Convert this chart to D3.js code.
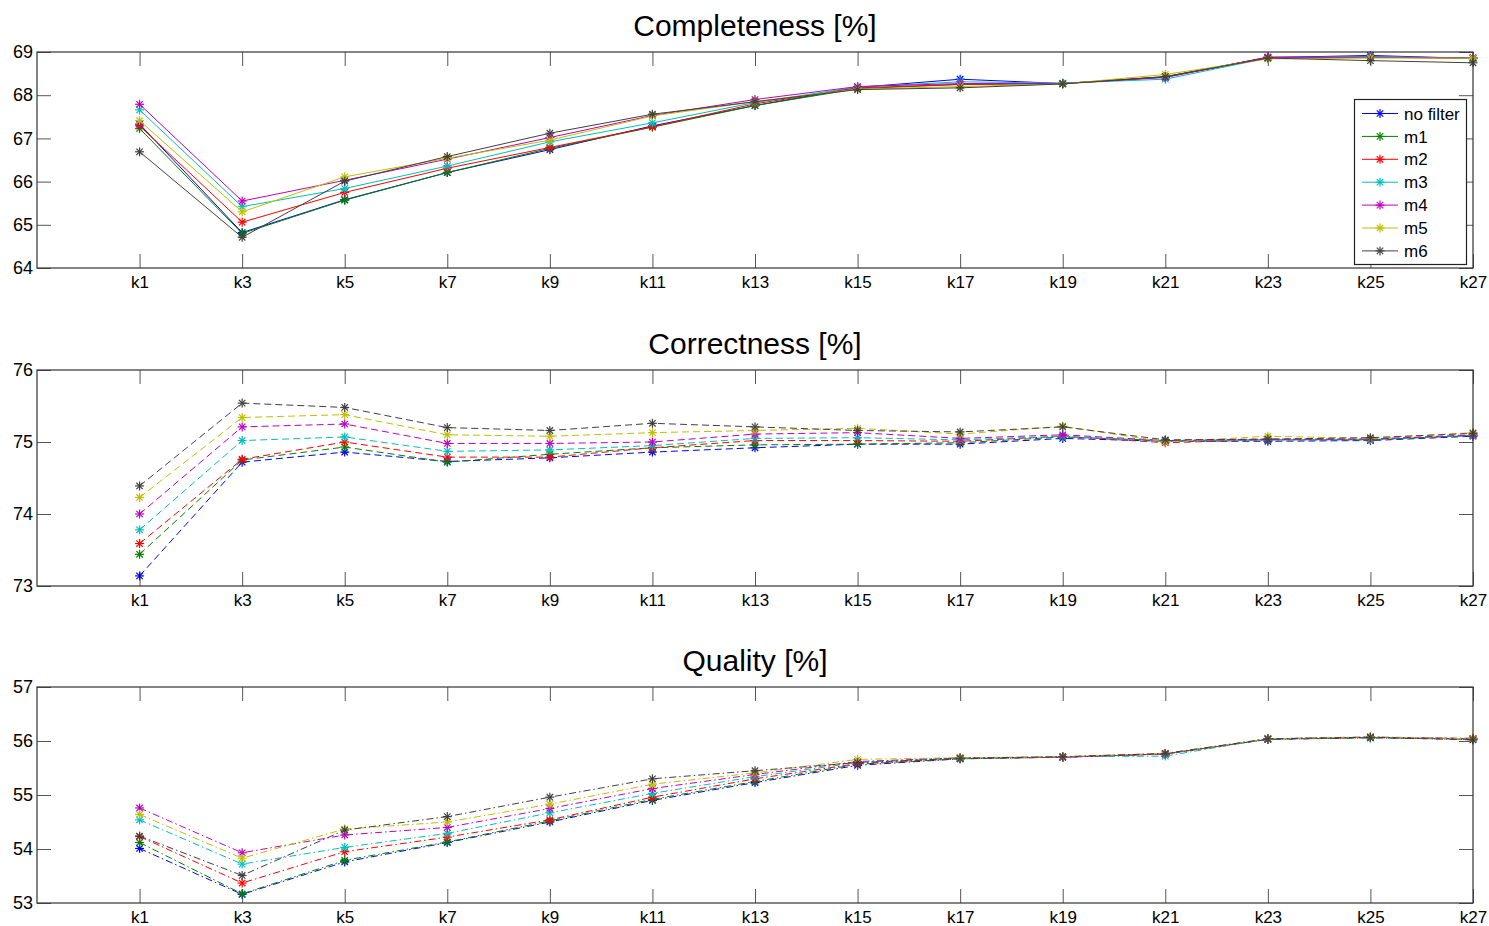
<!DOCTYPE html>
<html>
<head>
<meta charset="utf-8">
<script src="https://cdn.jsdelivr.net/npm/d3@7"></script>
<style>
    body { margin: 0; background: #fff; }
    text { font-family: "Liberation Sans", Arial, sans-serif; }
</style>
</head>
<body>
<div id="my_dataviz"></div>
<script>
let width = 1489,
    height = 926;

// x categories
let kLabels = ["k1", "k3", "k5", "k7", "k9", "k11", "k13", "k15", "k17", "k19", "k21", "k23", "k25", "k27"];
let seriesNames = ["no filter", "m1", "m2", "m3", "m4", "m5", "m6"];
let seriesColors = ["#0000ff", "#008000", "#ff0000", "#00bfbf", "#bf00bf", "#bfbf00", "#404040"];

// Completeness [%]
let compNoFilter = [67.33, 64.82, 65.58, 66.21, 66.74, 67.29, 67.76, 68.18, 68.37, 68.27, 68.42, 68.87, 68.92, 68.85];
let compM1 = [67.23, 64.80, 65.57, 66.21, 66.77, 67.26, 67.76, 68.15, 68.25, 68.27, 68.43, 68.87, 68.88, 68.85];
let compM2 = [67.29, 65.06, 65.75, 66.31, 66.79, 67.27, 67.80, 68.17, 68.25, 68.27, 68.42, 68.88, 68.88, 68.86];
let compM3 = [67.66, 65.42, 65.84, 66.36, 66.92, 67.36, 67.83, 68.19, 68.31, 68.28, 68.37, 68.86, 68.90, 68.85];
let compM4 = [67.79, 65.55, 66.03, 66.52, 67.02, 67.53, 67.90, 68.20, 68.27, 68.27, 68.41, 68.88, 68.88, 68.87];
let compM5 = [67.41, 65.30, 66.11, 66.54, 66.96, 67.52, 67.85, 68.14, 68.20, 68.26, 68.48, 68.84, 68.86, 68.86];
let compM6 = [66.69, 64.71, 66.01, 66.58, 67.12, 67.56, 67.85, 68.13, 68.17, 68.26, 68.43, 68.86, 68.80, 68.75];

// Correctness [%]
let corrNoFilter = [73.14, 74.72, 74.86, 74.73, 74.78, 74.86, 74.92, 74.97, 74.97, 75.05, 75.01, 75.01, 75.02, 75.08];
let corrM1 = [73.44, 74.75, 74.93, 74.72, 74.83, 74.92, 74.96, 74.97, 74.99, 75.07, 75.02, 75.03, 75.03, 75.09];
let corrM2 = [73.59, 74.76, 75.00, 74.79, 74.79, 74.92, 75.02, 75.02, 75.01, 75.08, 74.99, 75.03, 75.04, 75.09];
let corrM3 = [73.78, 75.02, 75.07, 74.87, 74.89, 74.95, 75.05, 75.06, 75.03, 75.08, 75.01, 75.03, 75.03, 75.09];
let corrM4 = [74.00, 75.21, 75.25, 74.98, 74.98, 75.00, 75.11, 75.13, 75.05, 75.10, 75.02, 75.04, 75.04, 75.10];
let corrM5 = [74.23, 75.34, 75.38, 75.10, 75.08, 75.13, 75.16, 75.19, 75.11, 75.22, 75.00, 75.08, 75.05, 75.13];
let corrM6 = [74.39, 75.54, 75.48, 75.20, 75.16, 75.26, 75.21, 75.16, 75.14, 75.21, 75.03, 75.04, 75.06, 75.12];

// Quality [%]
let qualNoFilter = [54.01, 53.16, 53.76, 54.12, 54.50, 54.90, 55.23, 55.55, 55.67, 55.70, 55.76, 56.03, 56.06, 56.03];
let qualM1 = [54.12, 53.17, 53.79, 54.13, 54.52, 54.92, 55.25, 55.57, 55.67, 55.70, 55.76, 56.03, 56.06, 56.04];
let qualM2 = [54.23, 53.37, 53.95, 54.22, 54.54, 54.96, 55.30, 55.58, 55.68, 55.70, 55.76, 56.04, 56.07, 56.05];
let qualM3 = [54.54, 53.72, 54.03, 54.29, 54.67, 55.03, 55.34, 55.60, 55.68, 55.71, 55.72, 56.04, 56.07, 56.04];
let qualM4 = [54.76, 53.93, 54.26, 54.40, 54.75, 55.12, 55.38, 55.62, 55.69, 55.70, 55.76, 56.04, 56.07, 56.04];
let qualM5 = [54.64, 53.83, 54.37, 54.50, 54.83, 55.20, 55.41, 55.66, 55.69, 55.71, 55.77, 56.04, 56.08, 56.04];
let qualM6 = [54.24, 53.51, 54.35, 54.60, 54.96, 55.30, 55.45, 55.60, 55.68, 55.71, 55.77, 56.04, 56.07, 56.02];

let compTicks = [64, 65, 66, 67, 68, 69];
let corrTicks = [73, 74, 75, 76];
let qualTicks = [53, 54, 55, 56, 57];

let svg = d3.select("#my_dataviz")
    .append("svg")
    .attr("width", width)
    .attr("height", height);

let plotLeft = 37,
    plotRight = 1473,
    tickLen = 14;

// k1 sits one slot in from the left edge, k27 on the right edge
let x = d3.scaleLinear()
    .domain([-1, kLabels.length - 1])
    .range([plotLeft, plotRight]);

function asterisk(g, cx, cy, color) {
    let r = 4.5, d = 3.2;
    let segs = [[-r, 0, r, 0], [0, -r, 0, r], [-d, -d, d, d], [-d, d, d, -d]];
    segs.forEach(function (s) {
        g.append("line")
            .attr("x1", cx + s[0]).attr("y1", cy + s[1])
            .attr("x2", cx + s[2]).attr("y2", cy + s[3])
            .style("stroke", color)
            .style("stroke-width", 1.2);
    });
}

function drawPanel(top, title, ticks, series, dash, showLegend) {
    let bottom = top + 216;
    let y = d3.scaleLinear()
        .domain([ticks[0], ticks[ticks.length - 1]])
        .range([bottom, top]);

    let g = svg.append("g");

    // title
    g.append("text")
        .attr("x", (plotLeft + plotRight) / 2)
        .attr("y", top - 16)
        .attr("text-anchor", "middle")
        .style("font-size", "30px")
        .style("fill", "#000")
        .text(title);

    // bottom and left axes (ticks inward)
    let xAxis = d3.axisBottom(x)
        .tickValues(d3.range(kLabels.length))
        .tickFormat(function (i) { return kLabels[i]; })
        .tickSizeInner(-tickLen)
        .tickSizeOuter(0)
        .tickPadding(8);
    let xg = g.append("g")
        .attr("transform", "translate(0," + bottom + ")")
        .call(xAxis);
    xg.select(".domain").remove();
    xg.selectAll(".tick line").style("stroke", "#555");
    xg.selectAll(".tick text")
        .attr("dy", "0.72em")
        .style("font-size", "17px")
        .style("font-family", "'Liberation Sans', Arial, sans-serif")
        .style("fill", "#000");

    let yAxis = d3.axisLeft(y)
        .tickValues(ticks)
        .tickFormat(d3.format("d"))
        .tickSizeInner(-tickLen)
        .tickSizeOuter(0)
        .tickPadding(4);
    let yg = g.append("g")
        .attr("transform", "translate(" + plotLeft + ",0)")
        .call(yAxis);
    yg.select(".domain").remove();
    yg.selectAll(".tick line").style("stroke", "#555");
    yg.selectAll(".tick text")
        .style("font-size", "18px")
        .style("font-family", "'Liberation Sans', Arial, sans-serif")
        .style("fill", "#000");

    // mirrored ticks on top and right
    let topAxis = d3.axisTop(x)
        .tickValues(d3.range(kLabels.length))
        .tickFormat("")
        .tickSizeInner(-tickLen)
        .tickSizeOuter(0);
    let tg = g.append("g").attr("transform", "translate(0," + top + ")").call(topAxis);
    tg.select(".domain").remove();
    tg.selectAll(".tick line").style("stroke", "#555");

    let rightAxis = d3.axisRight(y)
        .tickValues(ticks)
        .tickFormat("")
        .tickSizeInner(-tickLen)
        .tickSizeOuter(0);
    let rg = g.append("g").attr("transform", "translate(" + plotRight + ",0)").call(rightAxis);
    rg.select(".domain").remove();
    rg.selectAll(".tick line").style("stroke", "#555");

    // series
    let line = d3.line()
        .x(function (d, i) { return x(i); })
        .y(function (d) { return y(d); });

    series.forEach(function (vals, si) {
        g.append("path")
            .datum(vals)
            .attr("d", line)
            .style("fill", "none")
            .style("stroke", seriesColors[si])
            .style("stroke-width", 1)
            .style("stroke-dasharray", dash);
        vals.forEach(function (v, i) {
            asterisk(g, x(i), y(v), seriesColors[si]);
        });
    });

    // frame
    g.append("rect")
        .attr("x", plotLeft)
        .attr("y", top)
        .attr("width", plotRight - plotLeft)
        .attr("height", bottom - top)
        .style("fill", "none")
        .style("stroke", "#333")
        .style("stroke-width", 1.2);

    if (showLegend) {
        let lg = g.append("g");
        lg.append("rect")
            .attr("x", 1354.5)
            .attr("y", 99.5)
            .attr("width", 112)
            .attr("height", 165)
            .style("fill", "#fff")
            .style("stroke", "#222")
            .style("stroke-width", 1.2);
        seriesNames.forEach(function (name, si) {
            let ly = 113.5 + si * 22.9;
            lg.append("line")
                .attr("x1", 1362).attr("x2", 1398)
                .attr("y1", ly).attr("y2", ly)
                .style("stroke", seriesColors[si])
                .style("stroke-width", 1);
            asterisk(lg, 1380, ly, seriesColors[si]);
            lg.append("text")
                .attr("x", 1404)
                .attr("y", ly)
                .attr("dy", "0.36em")
                .style("font-size", "17px")
                .style("fill", "#000")
                .text(name);
        });
    }
}

drawPanel(52, "Completeness [%]", compTicks,
    [compNoFilter, compM1, compM2, compM3, compM4, compM5, compM6], null, true);
drawPanel(370, "Correctness [%]", corrTicks,
    [corrNoFilter, corrM1, corrM2, corrM3, corrM4, corrM5, corrM6], "7,4", false);
drawPanel(687, "Quality [%]", qualTicks,
    [qualNoFilter, qualM1, qualM2, qualM3, qualM4, qualM5, qualM6], "7,3,1.5,3", false);
</script>
</body>
</html>
